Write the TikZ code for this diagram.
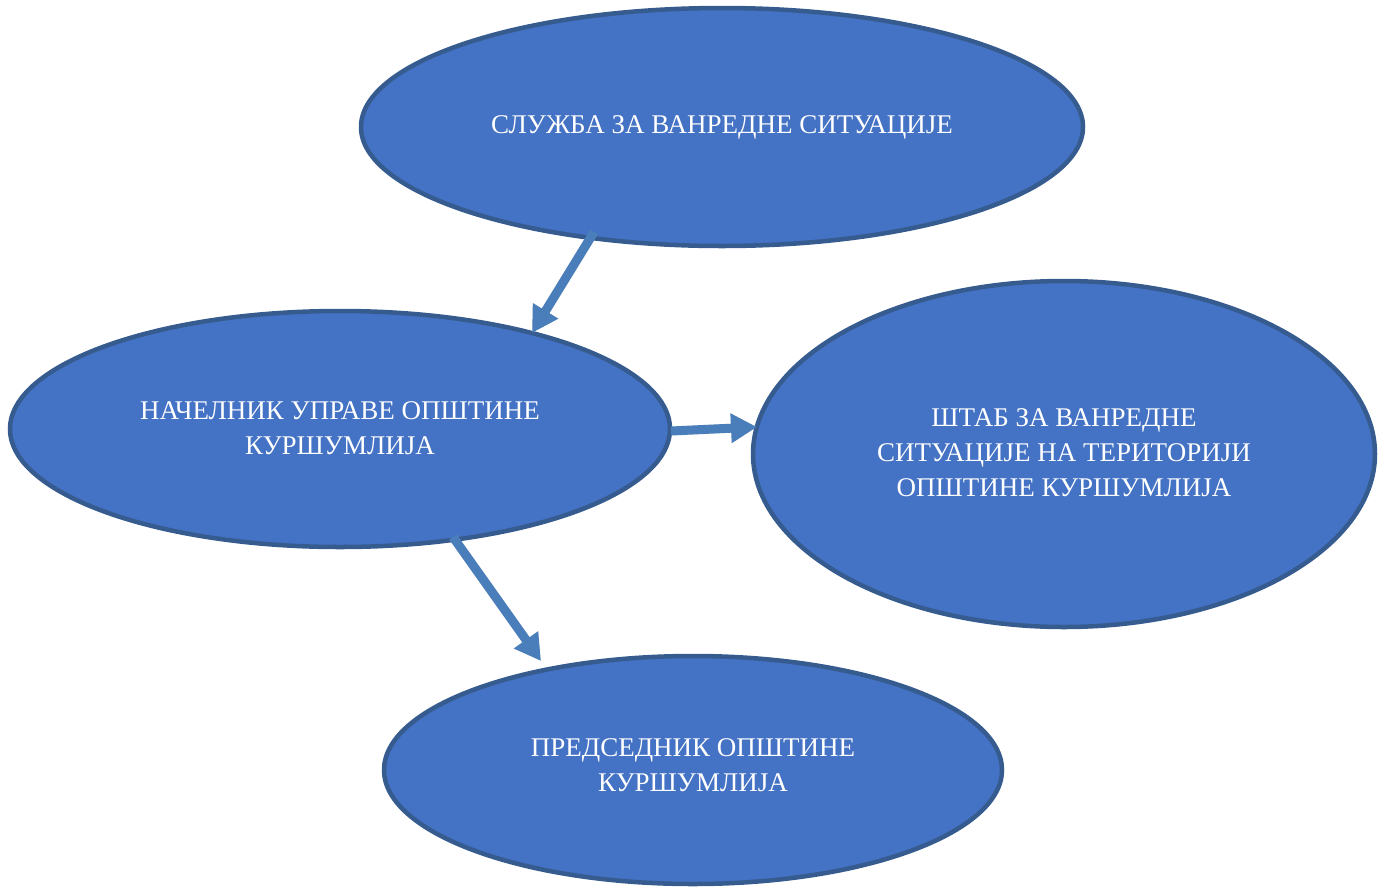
\documentclass[tikz,border=0pt]{standalone}
\usepackage{fontspec}
\setmainfont{Liberation Serif}
\usetikzlibrary{arrows.meta}
\definecolor{ovalfill}{HTML}{4472C4}
\definecolor{ovaledge}{HTML}{365B8E}
\definecolor{arrowblue}{HTML}{4A7EBB}
\tikzset{
  oval/.style={draw=ovaledge, fill=ovalfill, line width=4.5pt},
  ovaltext/.style={text=white, font=\fontsize{27}{35}\selectfont, align=center},
  link/.style={draw=arrowblue, line width=9pt, -{Triangle[width=28pt,length=26pt]}},
  linkshadow/.style={draw=black!35, opacity=0.25, line width=9pt, -{Triangle[width=28pt,length=26pt]}}
}
\begin{document}
\begin{tikzpicture}[x=1pt,y=-1pt]
\useasboundingbox (0,0) rectangle (1387,887);
% ovals
\draw[oval] (722,127) ellipse [x radius=361, y radius=119];
\draw[oval] (340,429) ellipse [x radius=330, y radius=118];
\draw[oval] (1064,454) ellipse [x radius=311, y radius=173];
\draw[oval] (693,770) ellipse [x radius=309, y radius=114];
% labels
\node[ovaltext] (sluzba) at (722,127) {СЛУЖБА ЗА ВАНРЕДНЕ СИТУАЦИЈЕ};
\node[ovaltext] (nacelnik) at (340,428) {НАЧЕЛНИК УПРАВЕ ОПШТИНЕ\\КУРШУМЛИЈА};
\node[ovaltext] (stab) at (1064,453) {ШТАБ ЗА ВАНРЕДНЕ\\СИТУАЦИЈЕ НА ТЕРИТОРИЈИ\\ОПШТИНЕ КУРШУМЛИЈА};
\node[ovaltext] (predsednik) at (693,765) {ПРЕДСЕДНИК ОПШТИНЕ\\КУРШУМЛИЈА};
% connector ends on the oval rims
\coordinate (a1) at (594,232);
\coordinate (a2) at (532,333);
\coordinate (b1) at (671,431);
\coordinate (b2) at (757,427);
\coordinate (c1) at (453,537);
\coordinate (c2) at (541,661);
% shadows
\begin{scope}[shift={(3,3)}]
\draw[linkshadow] (a1) -- (a2);
\draw[linkshadow] (b1) -- (b2);
\draw[linkshadow] (c1) -- (c2);
\end{scope}
% connectors
\draw[link] (a1) -- (a2);
\draw[link] (b1) -- (b2);
\draw[link] (c1) -- (c2);
\end{tikzpicture}
\end{document}
